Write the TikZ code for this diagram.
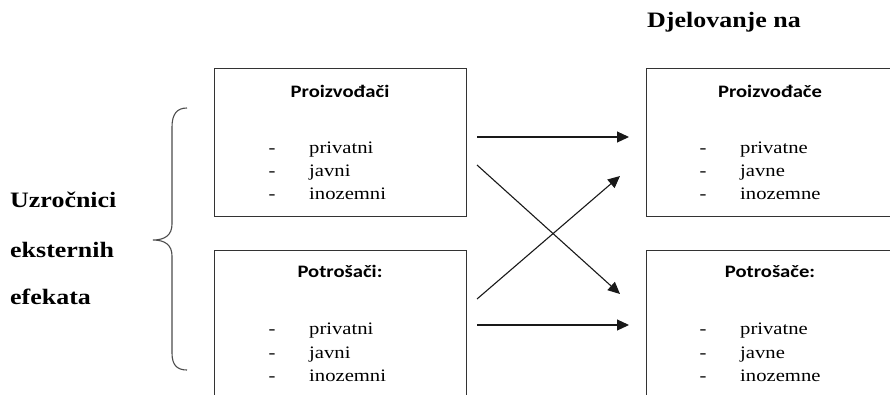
\documentclass[tikz,border=0pt]{standalone}
\usepackage{fontspec}
\setmainfont[FakeStretch=1.18]{Liberation Serif}
\newfontfamily\boxhead[FakeStretch=1.18]{Carlito}
\usetikzlibrary{arrows.meta}

\tikzset{
  panel/.style={draw=black!80, line width=1.3pt, minimum width=252pt, minimum height=148pt,
                inner sep=0pt, anchor=north west},
  headtxt/.style={font=\boxhead\fontsize{17.5}{20}\selectfont\bfseries, anchor=base, inner sep=0pt},
  itemdash/.style={font=\fontsize{17.5}{20}\selectfont, anchor=base, inner sep=0pt},
  itemtxt/.style={font=\fontsize{17.5}{20}\selectfont, anchor=base west, inner sep=0pt},
  sidetxt/.style={font=\fontsize{22}{26}\selectfont\bfseries, anchor=base west, inner sep=0pt},
  flow/.style={draw=black!90, line width=1.1pt, -{Triangle[length=12pt,width=11pt]}},
  bracepath/.style={draw=black!70, line width=1.1pt}
}

\begin{document}
\begin{tikzpicture}[x=1pt,y=-1pt]
\useasboundingbox (0,0) rectangle (890,394);

% left label and brace
\node[sidetxt] (l1) at (10,207) {Uzročnici};
\node[sidetxt] (l2) at (10,257) {eksternih};
\node[sidetxt] (l3) at (10,304) {efekata};
\draw[bracepath] (187,108) .. controls (177,108) and (172,114) .. (172,127)
  -- (172,224) .. controls (172,235) and (165,240) .. (153,240)
  .. controls (165,240) and (172,245) .. (172,256)
  -- (172,353) .. controls (172,365) and (177,370) .. (187,370);

% heading over the right column
\node[sidetxt] (hd) at (647,27) {Djelovanje na};

% boxes
\node[panel] (pa) at (214,68) {};
\node[panel] (pb) at (214,250) {};
\node[panel] (pc) at (646,68) {};
\node[panel] (pd) at (646,250) {};

% producers (source)
\node[headtxt] (pah) at (340,97) {Proizvođači};
\node[itemdash] (pad1) at (272,153) {-};
\node[itemdash] (pad2) at (272,176) {-};
\node[itemdash] (pad3) at (272,199) {-};
\node[itemtxt] (pat1) at (309,153) {privatni};
\node[itemtxt] (pat2) at (309,176) {javni};
\node[itemtxt] (pat3) at (309,199) {inozemni};

% consumers (source)
\node[headtxt] (pbh) at (340,277) {Potrošači:};
\node[itemdash] (pbd1) at (272,334) {-};
\node[itemdash] (pbd2) at (272,358) {-};
\node[itemdash] (pbd3) at (272,381) {-};
\node[itemtxt] (pbt1) at (309,334) {privatni};
\node[itemtxt] (pbt2) at (309,358) {javni};
\node[itemtxt] (pbt3) at (309,381) {inozemni};

% producers (affected)
\node[headtxt] (pch) at (770,97) {Proizvođače};
\node[itemdash] (pcd1) at (703,153) {-};
\node[itemdash] (pcd2) at (703,176) {-};
\node[itemdash] (pcd3) at (703,199) {-};
\node[itemtxt] (pct1) at (740,153) {privatne};
\node[itemtxt] (pct2) at (740,176) {javne};
\node[itemtxt] (pct3) at (740,199) {inozemne};

% consumers (affected)
\node[headtxt] (pdh) at (770,277) {Potrošače:};
\node[itemdash] (pdd1) at (703,334) {-};
\node[itemdash] (pdd2) at (703,358) {-};
\node[itemdash] (pdd3) at (703,381) {-};
\node[itemtxt] (pdt1) at (740,334) {privatne};
\node[itemtxt] (pdt2) at (740,358) {javne};
\node[itemtxt] (pdt3) at (740,381) {inozemne};

% arrow end points between the columns
\coordinate (aS) at (477,137);  \coordinate (aE) at (629,137);
\coordinate (bS) at (477,165);  \coordinate (bE) at (620,294);
\coordinate (cS) at (477,299);  \coordinate (cE) at (620,176);
\coordinate (dS) at (477,325);  \coordinate (dE) at (629,325);

\draw[flow] (aS) -- (aE);
\draw[flow] (bS) -- (bE);
\draw[flow] (cS) -- (cE);
\draw[flow] (dS) -- (dE);
\end{tikzpicture}
\end{document}
